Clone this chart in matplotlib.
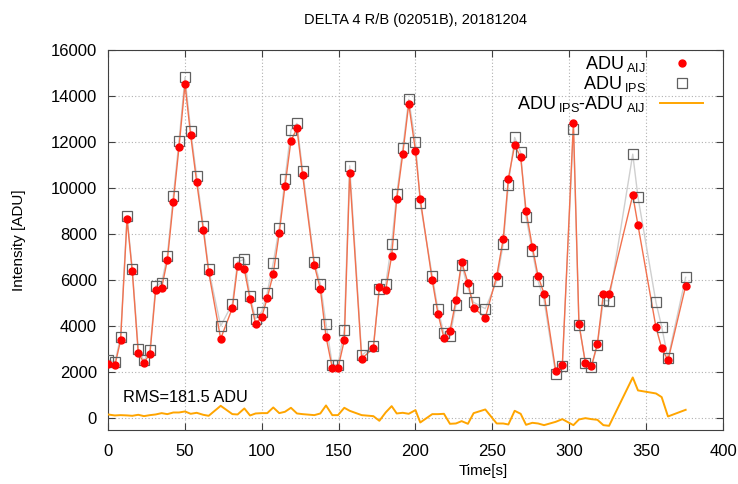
import matplotlib
matplotlib.use('Agg')
import matplotlib.pyplot as plt
import numpy as np

plt.rcParams['font.family'] = ['Liberation Sans', 'DejaVu Sans']

# ── DATA ──────────────────────────────────────────────
time_s = [0, 4.5, 8.2, 12.4, 15.8, 19.7, 23.4, 27.3, 31.0, 34.9, 38.6, 42.5,
          46.2, 50.1, 53.8, 57.7, 62.0, 65.5, 73.3, 80.9, 84.3, 88.7, 92.4, 96.0,
          100.0, 103.6, 107.5, 111.4, 115.1, 119.0, 122.9, 126.6, 134.2, 138.1,
          141.8, 145.9, 149.6, 153.7, 157.2, 165.0, 172.6, 176.5, 180.6, 184.5,
          187.8, 191.7, 195.6, 200.0, 203.1, 210.9, 214.6, 218.5, 222.4, 226.3,
          230.0, 234.1, 237.8, 245.4, 252.8, 257.1, 260.4, 264.5, 268.4, 271.9,
          276.0, 279.7, 283.6, 291.2, 295.5, 302.7, 306.3, 310.5, 314.4, 318.3,
          322.2, 325.9, 341.3, 344.7, 356.4, 360.1, 364.2, 375.7]

adu_aij = [2378, 2304, 3391, 8650, 6391, 2840, 2420, 2812, 5565, 5667, 6870, 9406,
           11783, 14507, 12290, 10261, 8203, 6362, 3464, 4797, 6623, 6478, 5174, 4116,
           4406, 5232, 6290, 8058, 10087, 12058, 12594, 10565, 6652, 5638,
           3551, 2188, 2188, 3391, 10638, 2594, 3058, 5710, 5565, 7058,
           9522, 11478, 13652, 11623, 9522, 6000, 4551, 3493, 3797, 5130,
           6797, 5899, 4812, 4377, 6174, 7812, 10420, 11870, 11348, 9014,
           7449, 6188, 5420, 2058, 2319, 12841, 4116, 2406, 2261, 3246,
           5420, 5420, 9696, 8391, 3957, 3058, 2522, 5754]

adu_ips = [2552, 2435, 3536, 8783, 6507, 3000, 2522, 2957, 5739, 5899, 7058, 9666,
           12043, 14812, 12493, 10507, 8362, 6478, 4014, 4986, 6797, 6913, 5304, 4333,
           4638, 5464, 6768, 8290, 10377, 12522, 12812, 10753, 6797, 5855,
           4116, 2333, 2333, 3855, 10971, 2739, 3159, 5609, 5826, 7594,
           9739, 11725, 13855, 11986, 9348, 6188, 4739, 3696, 3565, 4913,
           6681, 5667, 5043, 4768, 5957, 7594, 10159, 12203, 11551, 8739,
           7261, 5971, 5130, 1913, 2290, 12551, 4072, 2420, 2232, 3188,
           5130, 5101, 11478, 9609, 5043, 3986, 2609, 6130]

rms_text = 'RMS=181.5 ADU'

t = np.array(time_s)
aij = np.array(adu_aij)
ips = np.array(adu_ips)
diff = ips - aij

# ── PLOT ──────────────────────────────────────────────
fig = plt.figure(figsize=(7.38, 4.84), dpi=100)
ax = fig.add_axes([0.1463, 0.1116, 0.8334, 0.7851])

# connecting lines first, markers on top
ax.plot(t, ips, color='#cfcfcf', lw=1.0, zorder=2)
ax.plot(t, aij, color='#f2714e', lw=1.0, zorder=3)
ax.plot(t, aij, 'o', color='red', ms=5, zorder=5,
        label=r'ADU$\,_{\mathregular{AIJ}}$')
ax.plot(t, ips, 's', mfc='none', mec='#606060', mew=0.9, ms=6.5, zorder=4,
        label=r'ADU$\,_{\mathregular{IPS}}$')
ax.plot(t, diff, color='#ffa500', lw=1.4, zorder=3,
        label=r'ADU$\,_{\mathregular{IPS}}$-ADU$\,_{\mathregular{AIJ}}$')

ax.text(9.8, 930, rms_text, fontsize=11.8, ha='left', va='center')

ax.set_xlim(0, 400)
ax.set_ylim(-500, 16000)
ax.set_xticks(np.arange(0, 401, 50))
ax.set_yticks(np.arange(0, 16001, 2000))
ax.grid(True, linestyle=(0, (1, 2)), color='#b0b0b0', lw=0.8)
ax.tick_params(direction='in', top=True, right=True, length=5,
               labelsize=12, color='#404040')
ax.tick_params(axis='x', pad=10)
ax.tick_params(axis='y', pad=8)
for sp in ax.spines.values():
    sp.set_color('#404040')

ax.set_title('DELTA 4 R/B (02051B), 20181204', fontsize=10.5, pad=19)
ax.set_xlabel('Time[s]', fontsize=11)
ax.set_ylabel('Intensity [ADU]', fontsize=11)
ax.xaxis.set_label_coords(0.61, -0.09)
ax.yaxis.set_label_coords(-0.133, 0.5)

ax.legend(loc='upper right', markerfirst=False, frameon=False, fontsize=13,
          handlelength=2.4, labelspacing=0.0, borderaxespad=0.0,
          bbox_to_anchor=(0.98, 1.008))

plt.savefig('out.png', dpi=100)
